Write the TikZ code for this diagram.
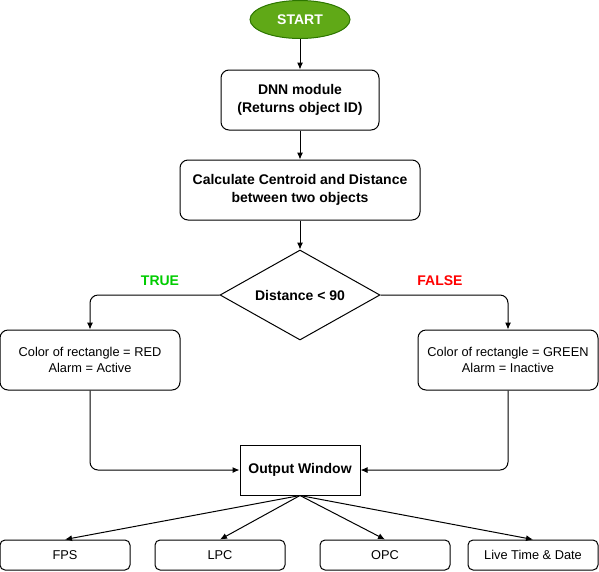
\documentclass[tikz,border=0pt]{standalone}
\usepackage{fontspec}
\setmainfont{Liberation Sans}
\usetikzlibrary{arrows.meta,shapes.geometric}
\tikzset{>={Latex[length=7pt,width=6pt]}}
\definecolor{startgreen}{HTML}{60A917}
\definecolor{startborder}{HTML}{2D7600}
\definecolor{truegreen}{HTML}{00CC00}
\tikzstyle{process}=[rectangle,draw,rounded corners=8pt,align=center,font=\fontsize{14}{17.5}\selectfont\bfseries]
\tikzstyle{result}=[rectangle,draw,rounded corners=8pt,align=center,minimum width=180pt,minimum height=60pt,font=\fontsize{12.8}{16}\selectfont]
\tikzstyle{output}=[rectangle,draw,rounded corners=5pt,minimum width=130pt,minimum height=30pt,font=\fontsize{12.8}{16}\selectfont]

\begin{document}
\begin{tikzpicture}[x=1pt,y=-1pt,line width=1pt]
	\useasboundingbox (0,0) rectangle (599,571);
	\node[ellipse,draw=startborder,fill=startgreen,text=white,minimum width=100pt,minimum height=38pt,font=\fontsize{14}{17}\selectfont\bfseries] (start) at (300, 19.5) {START};
	\node[process,minimum width=158pt,minimum height=60pt] (dnn) at (300, 100) {DNN module\\(Returns object ID)};
	\node[process,minimum width=240pt,minimum height=60pt] (calc) at (300, 190) {Calculate Centroid and Distance\\between two objects};
	\node[diamond,draw,inner sep=0pt,aspect=1.78,minimum width=160pt,minimum height=90pt,font=\fontsize{14}{17}\selectfont\bfseries] (dist) at (300, 295) {Distance < 90};
	\node[result] (red) at (90, 360) {Color of rectangle = RED\\Alarm = Active};
	\node[result] (green) at (508, 360) {Color of rectangle = GREEN\\Alarm = Inactive};
	\node[rectangle,draw,minimum width=120pt,minimum height=50pt,font=\fontsize{14}{17}\selectfont\bfseries] (window) at (300, 470) {Output Window};
	\node[output] (fps) at (65, 555) {FPS};
	\node[output] (lpc) at (220, 555) {LPC};
	\node[output] (opc) at (385, 555) {OPC};
	\node[output] (live) at (533, 555) {Live Time \& Date};
	\node[text=truegreen,font=\fontsize{14}{17}\selectfont\bfseries] (true) at (160, 281) {TRUE};
	\node[text=red,font=\fontsize{14}{17}\selectfont\bfseries] (false) at (440, 281) {FALSE};
	
	\draw[->] (start) -- (dnn);
	\draw[->] (dnn) -- (calc);
	\draw[->] (calc) -- (dist);
	\draw[->,rounded corners=8pt] (dist.west) -| (red.north);
	\draw[->,rounded corners=8pt] (dist.east) -| (green.north);
	\draw[->,rounded corners=8pt] (red.south) |- (window.west);
	\draw[->,rounded corners=8pt] (green.south) |- (window.east);
	\draw[->] (window.south) -- (fps.north);
	\draw[->] (window.south) -- (lpc.north);
	\draw[->] (window.south) -- (opc.north);
	\draw[->] (window.south) -- (live.north);
\end{tikzpicture}
\end{document}
